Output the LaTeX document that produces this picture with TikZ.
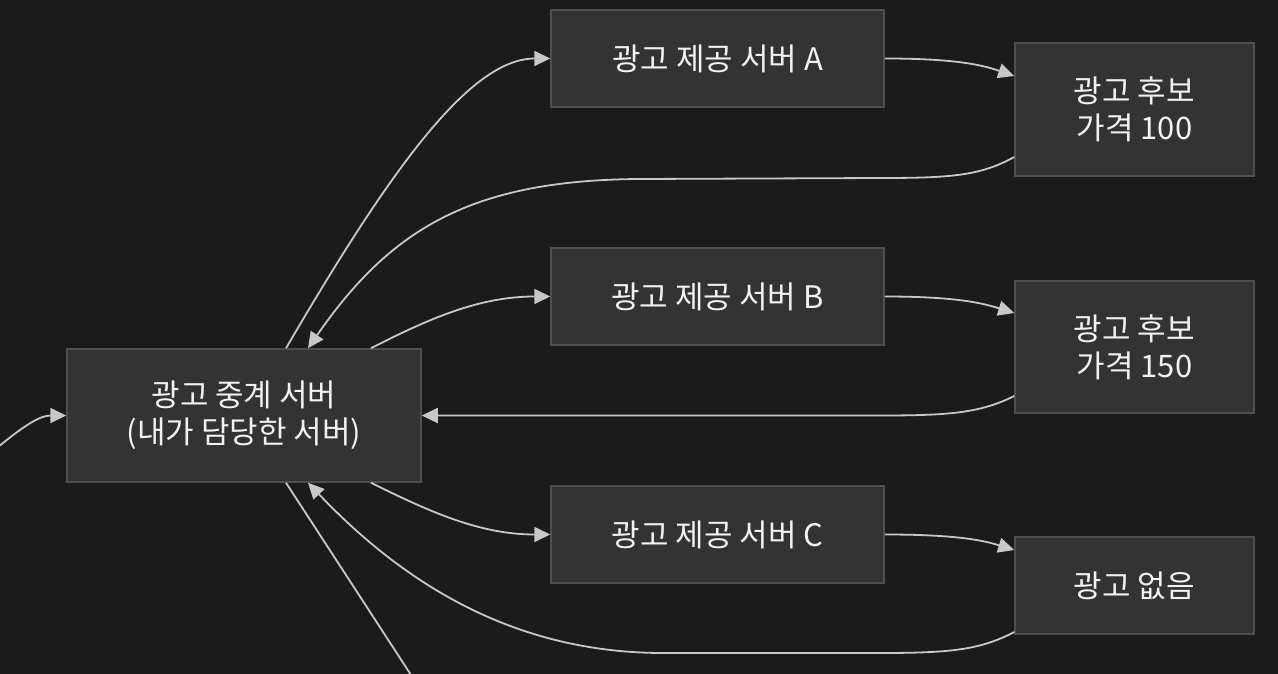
\documentclass[tikz,border=0pt]{standalone}
\usepackage{fontspec}
\setmainfont{Noto Sans CJK KR}
\usetikzlibrary{arrows.meta}
\definecolor{bg}{HTML}{1B1B1B}
\definecolor{boxfill}{HTML}{333333}
\definecolor{boxline}{HTML}{4F4F4F}
\definecolor{wire}{HTML}{C8C8C8}
\definecolor{ink}{HTML}{F2F2F2}

\begin{document}
\begin{tikzpicture}[x=1pt, y=-1pt,
    box/.style={shape=rectangle, fill=boxfill, draw=boxline, line width=1.5pt,
      text=ink, align=center, inner sep=0pt,
      font=\fontsize{31}{37}\selectfont},
    flow/.style={draw=wire, line width=1.8pt,
      -{Triangle[length=16pt, width=15pt, fill=wire]}},
    plain/.style={draw=wire, line width=1.8pt}]
    \fill[bg] (0, 0) rectangle (1278, 674);
    \useasboundingbox (0, 0) rectangle (1278, 674);

    \node at (244, 415.5) (hub) [box, minimum width=354, minimum height=133] {광고 중계 서버\\(내가 담당한 서버)};
    \node at (717.5, 58.5) (srvA) [box, minimum width=333, minimum height=97] {광고 제공 서버 A};
    \node at (717.5, 296.5) (srvB) [box, minimum width=333, minimum height=97] {광고 제공 서버 B};
    \node at (717.5, 534.5) (srvC) [box, minimum width=333, minimum height=97] {광고 제공 서버 C};
    \node at (1134.5, 109.5) (bidA) [box, minimum width=239, minimum height=133] {광고 후보\\가격 100};
    \node at (1134.5, 347) (bidB) [box, minimum width=239, minimum height=132] {광고 후보\\가격 150};
    \node at (1134.5, 585.5) (noAd) [box, minimum width=239, minimum height=97] {광고 없음};

    \coordinate (feed) at (-2, 447);
    \coordinate (exit) at (413, 678);

    % request in and out of the hub
    \draw[flow] (feed) .. controls (25, 425) and (40, 415.5) .. (hub.west);
    \draw[plain] ([xshift=42pt]hub.south) -- (exit);

    % hub to the ad servers
    \draw[flow] ([xshift=42pt]hub.north) .. controls (390, 170) and (470, 58.5) .. (srvA.west);
    \draw[flow] ([xshift=127pt]hub.north) .. controls (430, 318) and (480, 296.5) .. (srvB.west);
    \draw[flow] ([xshift=127pt]hub.south) .. controls (430, 512) and (480, 534.5) .. (srvC.west);

    % ad servers to their answers
    \draw[flow] (srvA.east) .. controls (960, 58.5) and (985, 66) .. ([yshift=33.5pt]bidA.west);
    \draw[flow] (srvB.east) .. controls (960, 296.5) and (985, 304) .. ([yshift=34pt]bidB.west);
    \draw[flow] (srvC.east) .. controls (960, 534.5) and (985, 541) .. ([yshift=35.5pt]noAd.west);

    % answers back to the hub
    \draw[flow] ([yshift=-47.5pt]bidA.west) .. controls (980, 176) and (950, 178) .. (880, 178)
      -- (640, 179) .. controls (470, 180) and (390, 230) .. ([xshift=64pt]hub.north);
    \draw[flow] ([yshift=-49pt]bidB.west) .. controls (980, 413) and (950, 415.5) .. (880, 415.5)
      -- (hub.east);
    \draw[flow] ([yshift=-46.5pt]noAd.west) .. controls (980, 650) and (950, 653) .. (880, 653)
      -- (660, 653) .. controls (520, 652) and (410, 590) .. ([xshift=64pt]hub.south);
  \end{tikzpicture}
\end{document}
